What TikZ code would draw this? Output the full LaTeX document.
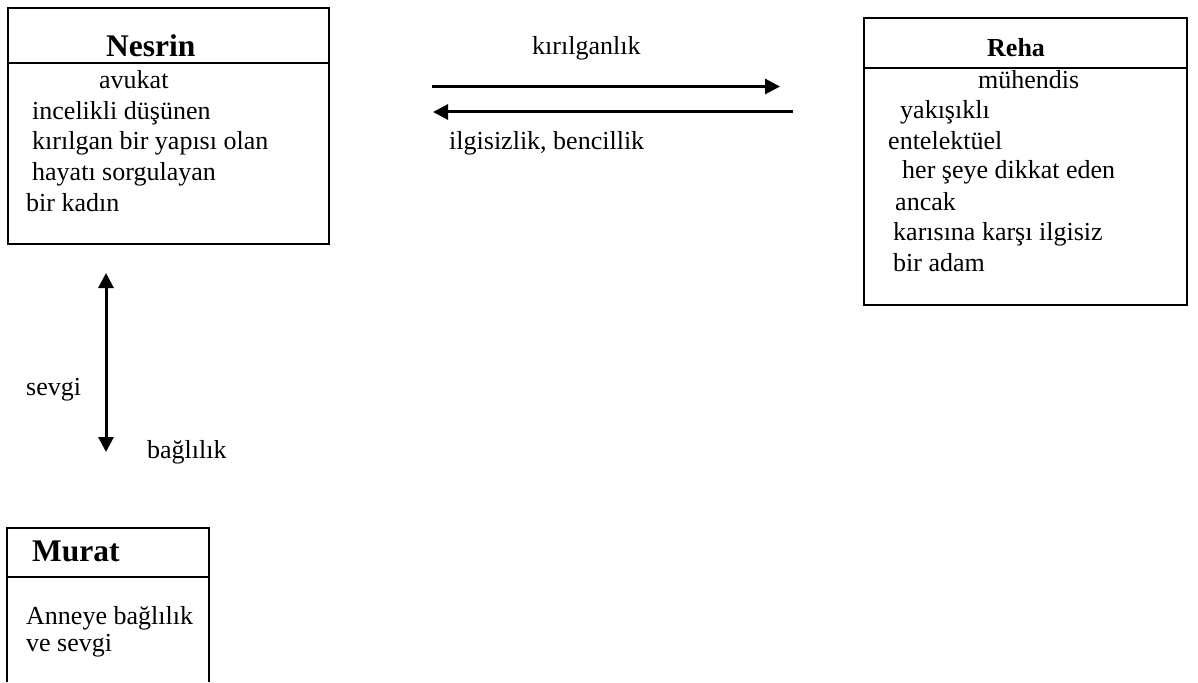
\documentclass[tikz,border=0pt]{standalone}
\usepackage{fontspec}
\setmainfont{Liberation Serif}
\usetikzlibrary{arrows.meta}
\begin{document}
\begin{tikzpicture}[x=1pt,y=-1pt,
  frame/.style={line width=2pt},
  rule/.style={line width=1.6pt},
  ttl/.style={font=\fontsize{31.5}{36}\selectfont\bfseries, inner sep=0pt, anchor=base west},
  ttlsmall/.style={font=\fontsize{26}{30}\selectfont\bfseries, inner sep=0pt, anchor=base west},
  txt/.style={font=\fontsize{26}{30}\selectfont, inner sep=0pt, anchor=base west},
  link/.style={line width=3pt, -{Triangle[length=15pt,width=15pt]}},
  biglink/.style={line width=3pt, {Triangle[length=15pt,width=15pt]}-{Triangle[length=15pt,width=15pt]}},
]
\useasboundingbox (0,0) rectangle (1198,682);

% Nesrin
\draw[frame] (8,8) rectangle (329,244);
\draw[rule] (8,63) -- (329,63);
\node[ttl] (nesrin) at (106,57) {Nesrin};
\node[txt] (n1) at (99,89)  {avukat};
\node[txt] (n2) at (32,120) {incelikli düşünen};
\node[txt] (n3) at (32,149) {kırılgan bir yapısı olan};
\node[txt] (n4) at (32,180) {hayatı sorgulayan};
\node[txt] (n5) at (26,211) {bir kadın};

% Reha
\draw[frame] (864,18) rectangle (1187,305);
\draw[rule] (864,68) -- (1187,68);
\node[ttlsmall] (reha) at (987,57) {Reha};
\node[txt] (r1) at (978,89)  {mühendis};
\node[txt] (r2) at (900,118) {yakışıklı};
\node[txt] (r3) at (888,149) {entelektüel};
\node[txt] (r4) at (902,178) {her şeye dikkat eden};
\node[txt] (r5) at (895,210) {ancak};
\node[txt] (r6) at (893,240) {karısına karşı ilgisiz};
\node[txt] (r7) at (893,271) {bir adam};

% Murat (open at the bottom edge)
\draw[frame] (7,682) -- (7,528) -- (209,528) -- (209,682);
\draw[rule] (7,577) -- (209,577);
\node[ttl] (murat) at (32,561) {Murat};
\node[txt] (m1) at (26,624) {Anneye bağlılık};
\node[txt] (m2) at (26,651) {ve sevgi};

% Relations between Nesrin and Reha
\coordinate (ka) at (432,86.5);
\coordinate (kb) at (780,86.5);
\coordinate (ia) at (793,112);
\coordinate (ib) at (433,112);
\draw[link] (ka) -- (kb);
\draw[link] (ia) -- (ib);
\node[txt] (kir) at (532,55) {kırılganlık};
\node[txt] (ilg) at (449,149) {ilgisizlik, bencillik};

% Relation between Nesrin and Murat
\coordinate (va) at (106,273);
\coordinate (vb) at (106,452);
\draw[biglink] (va) -- (vb);
\node[txt] (sev) at (26,395) {sevgi};
\node[txt] (bag) at (147,458) {bağlılık};
\end{tikzpicture}
\end{document}
